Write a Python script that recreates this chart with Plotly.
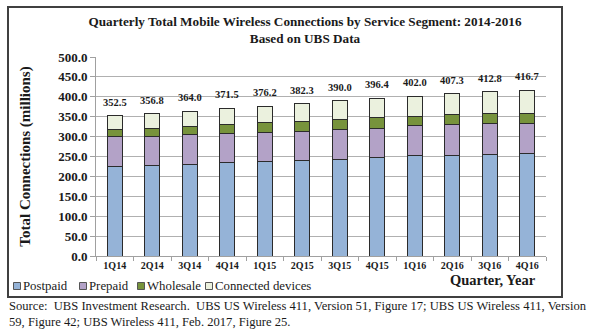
import plotly.graph_objects as go

# Quarterly connections (millions) by service segment, UBS data
quarters = ["1Q14", "2Q14", "3Q14", "4Q14", "1Q15", "2Q15",
            "3Q15", "4Q15", "1Q16", "2Q16", "3Q16", "4Q16"]
postpaid = [225.0, 227.5, 231.0, 235.0, 237.5, 240.0,
            242.5, 246.5, 252.0, 253.0, 254.0, 256.5]
prepaid = [75.0, 74.0, 74.0, 74.0, 74.0, 74.0,
           75.0, 75.0, 75.5, 78.0, 78.5, 77.5]
wholesale = [17.5, 18.0, 21.5, 22.5, 24.5, 24.0,
             25.5, 26.0, 24.0, 24.0, 25.0, 25.0]
connected = [35.0, 37.3, 37.5, 40.0, 40.2, 44.3,
             47.0, 48.9, 50.5, 52.3, 55.3, 57.7]
totals = [352.5, 356.8, 364.0, 371.5, 376.2, 382.3,
          390.0, 396.4, 402.0, 407.3, 412.8, 416.7]

series_names = ["Postpaid", "Prepaid", "Wholesale", "Connected devices"]
series_values = [postpaid, prepaid, wholesale, connected]
series_colors = ["#95B3D7", "#B3A2C7", "#77933C", "#EBF1DE"]

FONT = "Liberation Serif"
W, H = 590, 334
ML, MR, MT, MB = 96, 44, 57, 78
PW, PH = W - ML - MR, H - MT - MB


def px_x(x):
    return (x - ML) / PW


def px_y(y):
    return (H - MB - y) / PH


fig = go.Figure()
for name, vals, col in zip(series_names, series_values, series_colors):
    fig.add_trace(go.Bar(
        x=quarters, y=vals, name=name,
        marker=dict(color=col, line=dict(color="#2b2b2b", width=1)),
        showlegend=False,
    ))

annotations = []
# total value above each stacked bar
for q, t in zip(quarters, totals):
    annotations.append(dict(
        x=q, y=t, xref="x", yref="y", text=f"{t:.1f}", showarrow=False,
        yanchor="bottom", yshift=6,
        font=dict(family=FONT, size=10.5, color="#1a1a1a", weight="bold"),
    ))

# legend row
shapes = []
legend_x = [17, 83, 141, 209]
ly = 286
for name, col, lx in zip(series_names, series_colors, legend_x):
    shapes.append(dict(
        type="rect", xref="paper", yref="paper",
        x0=px_x(lx - 3.5), x1=px_x(lx + 3.5),
        y0=px_y(ly + 3.5), y1=px_y(ly - 3.5),
        fillcolor=col, line=dict(color="#555555", width=1),
    ))
    annotations.append(dict(
        x=px_x(lx + 4), y=px_y(ly), xref="paper", yref="paper",
        text=name, showarrow=False, xanchor="left", yanchor="middle",
        font=dict(family=FONT, size=12.8, color="#1a1a1a"),
    ))

annotations.append(dict(
    x=px_x(538), y=px_y(280), xref="paper", yref="paper",
    text="Quarter, Year", showarrow=False, xanchor="right", yanchor="middle",
    font=dict(family=FONT, size=14.5, color="#1a1a1a", weight="bold"),
))

source_lines = [
    "Source:  UBS Investment Research.  UBS US Wireless 411, Version 51, Figure 17; "
    "UBS US Wireless 411, Version",
    "59, Figure 42; UBS Wireless 411, Feb. 2017, Figure 25.",
]
for i, line in enumerate(source_lines):
    annotations.append(dict(
        x=px_x(7), y=px_y(306 + 16 * i), xref="paper", yref="paper",
        text=line, showarrow=False, xanchor="left", yanchor="middle",
        font=dict(family=FONT, size=12.6, color="#1a1a1a"),
    ))

# outer chart frame
shapes.append(dict(
    type="rect", xref="paper", yref="paper",
    x0=px_x(8), x1=px_x(562), y0=px_y(297), y1=px_y(7),
    line=dict(color="#404040", width=2), fillcolor="rgba(0,0,0,0)", layer="below",
))

fig.update_layout(
    width=W, height=H,
    margin=dict(l=ML, r=MR, t=MT, b=MB),
    barmode="stack", bargap=0.6,
    paper_bgcolor="white", plot_bgcolor="white",
    font=dict(family=FONT, color="#1a1a1a"),
    title=dict(
        text="Quarterly Total Mobile Wireless Connections by Service Segment: 2014-2016"
             "<br>Based on UBS Data",
        x=305 / W, xanchor="center", xref="container",
        y=1 - 26 / H, yanchor="top", yref="container",
        font=dict(family=FONT, size=13.2, color="#1a1a1a", weight="bold"),
    ),
    xaxis=dict(
        type="category", tickson="boundaries", ticks="outside", ticklen=4,
        tickcolor="#a0a0a0", showline=True, linecolor="#a0a0a0", linewidth=1,
        tickfont=dict(family=FONT, size=10, color="#1a1a1a", weight="bold"),
        showgrid=False,
    ),
    yaxis=dict(
        range=[0, 500], dtick=50, tickformat=".1f",
        ticks="outside", ticklen=5, tickcolor="#a0a0a0",
        showline=True, linecolor="#a0a0a0", linewidth=1,
        gridcolor="#b0b0b0", gridwidth=1, zeroline=False,
        tickfont=dict(family=FONT, size=13, color="#1a1a1a", weight="bold"),
        title=dict(text="Total Connections (millions)", standoff=23,
                   font=dict(family=FONT, size=15, color="#1a1a1a", weight="bold")),
    ),
    annotations=annotations,
    shapes=shapes,
)

fig.write_html("out.html")
